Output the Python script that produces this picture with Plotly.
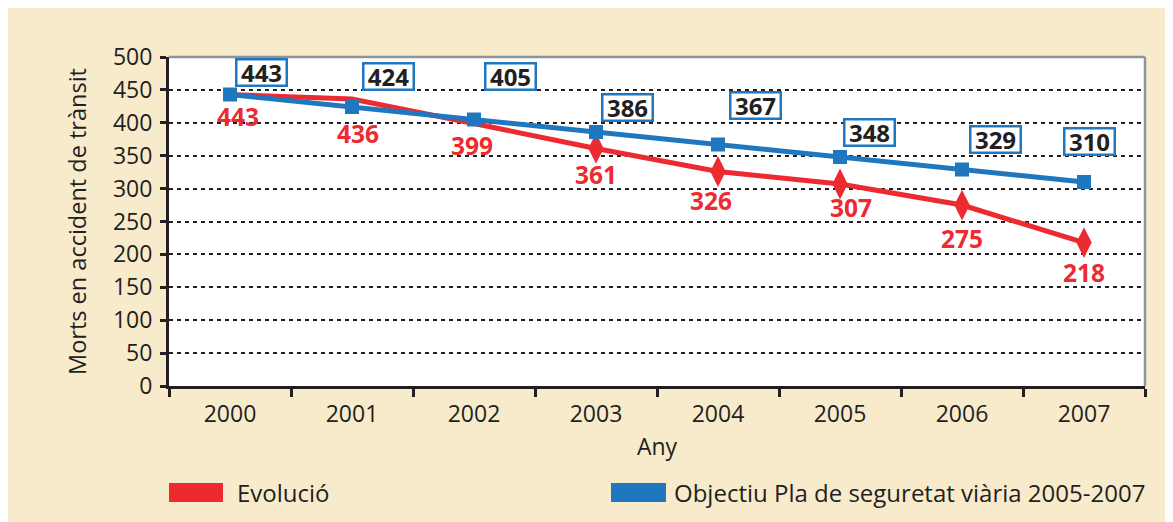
import plotly.graph_objects as go

# ---- data ----
years = ["2000", "2001", "2002", "2003", "2004", "2005", "2006", "2007"]
evolucio = [443, 436, 399, 361, 326, 307, 275, 218]
objectiu = [443, 424, 405, 386, 367, 348, 329, 310]
y_tick_vals = [0, 50, 100, 150, 200, 250, 300, 350, 400, 450, 500]
series_names = ["Evolució", "Objectiu Pla de seguretat viària 2005-2007"]
y_title = "Morts en accident de trànsit"
x_title = "Any"

# ---- style ----
RED = "#EC2A30"
BLUE = "#1F78BF"
BEIGE = "#F7EBCC"
TXT = "#231F20"
FONT = "Open Sans"

W, H = 1173, 522
OFF = 8  # page body margin
# plot area in page pixel coordinates
L, R, T, B = 169, 1145, 57, 386


def px(x):
    return (x - L) / (R - L)


def py(y):
    return (B - y) / (B - T)


# label pixel offsets and marker sizes (layout/style only)
red_dx = [8, 6, -2, 0, -7, 11, 0, 0]
red_dy = [22, 34, 22, 26, 29, 24, 33, 30]
blue_dx = [31, 36, 36, 31, 37, 29, 33, 5]
blue_dy = [22, 31, 43, 25, 39, 25, 30, 41]
red_marker_sizes = [0, 0, 0, 22, 22, 22, 22, 22]

fig = go.Figure()
fig.add_trace(go.Scatter(
    x=years, y=evolucio, mode="lines+markers", name=series_names[0],
    line=dict(color=RED, width=5),
    marker=dict(symbol="diamond-tall", size=red_marker_sizes, color=RED,
                opacity=1, line=dict(width=0)),
    showlegend=False, cliponaxis=False))
fig.add_trace(go.Scatter(
    x=years, y=objectiu, mode="lines+markers", name=series_names[1],
    line=dict(color=BLUE, width=5),
    marker=dict(symbol="square", size=14, color=BLUE, opacity=1, line=dict(width=0)),
    showlegend=False, cliponaxis=False))

ann = []
for i, v in enumerate(evolucio):
    ann.append(dict(x=i, y=v, xref="x", yref="y", text="<b>%d</b>" % v, showarrow=False,
                    xshift=red_dx[i], yshift=-red_dy[i],
                    font=dict(family=FONT, size=24.5, color=RED)))
for i, v in enumerate(objectiu):
    ann.append(dict(x=i, y=v, xref="x", yref="y", text="<b>%d</b>" % v, showarrow=False,
                    xshift=blue_dx[i], yshift=blue_dy[i],
                    width=48, height=24, borderpad=0,
                    bordercolor=BLUE, borderwidth=2.5, bgcolor="white",
                    font=dict(family=FONT, size=24, color=TXT)))

# legend (manual)
ann.append(dict(x=px(235), y=py(492), xref="paper", yref="paper", text=series_names[0],
                showarrow=False, xanchor="left", yanchor="middle",
                font=dict(family=FONT, size=24, color=TXT)))
ann.append(dict(x=px(672), y=py(492), xref="paper", yref="paper", text=series_names[1],
                showarrow=False, xanchor="left", yanchor="middle",
                font=dict(family=FONT, size=24, color=TXT)))

shapes = [
    # gray frame top / right
    dict(type="line", xref="paper", yref="paper", x0=0, x1=1, y0=1, y1=1,
         line=dict(color="#8C949C", width=2.5), layer="above"),
    dict(type="line", xref="paper", yref="paper", x0=1, x1=1, y0=0, y1=1,
         line=dict(color="#8C949C", width=2.5), layer="below"),
    # legend swatches
    dict(type="rect", xref="paper", yref="paper", x0=px(169), x1=px(223), y0=py(502), y1=py(483),
         fillcolor=RED, line=dict(width=0)),
    dict(type="rect", xref="paper", yref="paper", x0=px(611), x1=px(666), y0=py(502), y1=py(483),
         fillcolor=BLUE, line=dict(width=0)),
]

fig.update_layout(
    width=W, height=H,
    margin=dict(l=L - OFF, r=W - (R - OFF), t=T - OFF, b=H - (B - OFF), pad=0, autoexpand=False),
    paper_bgcolor=BEIGE, plot_bgcolor="white",
    font=dict(family=FONT, size=23, color=TXT),
    annotations=ann, shapes=shapes,
    showlegend=False,
)
fig.update_xaxes(
    type="category", range=[-0.5, 7.5], automargin=False,
    showline=True, linecolor=TXT, linewidth=3,
    ticks="outside", tickson="boundaries", ticklen=8, tickwidth=2.5, tickcolor=TXT,
    showgrid=False, zeroline=False, ticklabelstandoff=5,
    tickfont=dict(family=FONT, size=23, color=TXT),
    title=dict(text=x_title, font=dict(family=FONT, size=23, color=TXT), standoff=12),
)
fig.update_yaxes(
    range=[0, 500], tickvals=y_tick_vals, automargin=False,
    showline=True, linecolor=TXT, linewidth=3,
    ticks="outside", ticklen=6, tickwidth=2.5, tickcolor=TXT,
    showgrid=True, gridcolor=TXT, gridwidth=2, griddash="4px,4px",
    zeroline=False, ticklabelstandoff=3,
    tickfont=dict(family=FONT, size=23, color=TXT),
    title=dict(text=y_title, font=dict(family=FONT, size=23.5, color=TXT), standoff=20),
)

fig.write_html("out.html")
